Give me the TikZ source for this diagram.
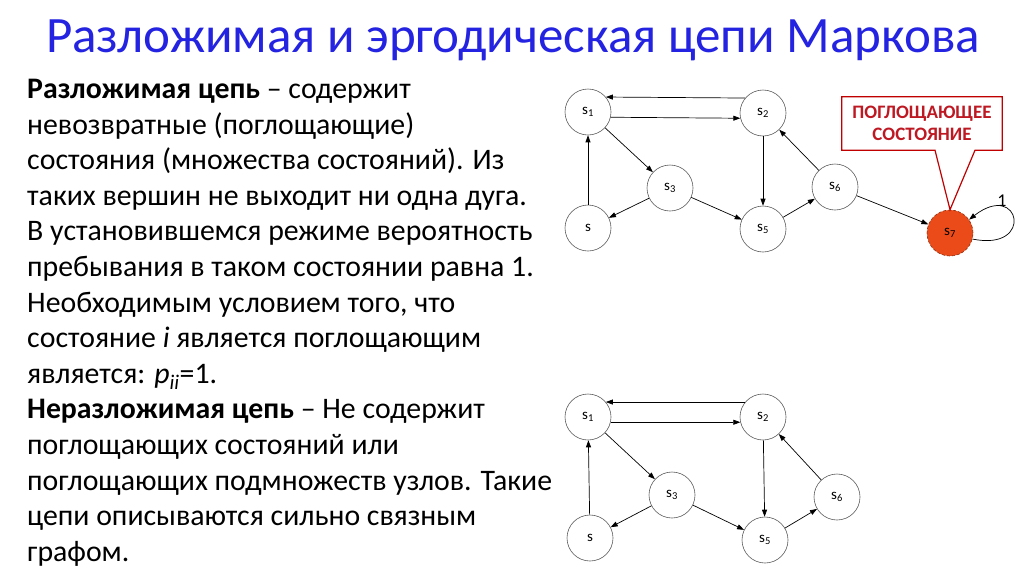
\documentclass[tikz,border=0pt]{standalone}
\usepackage{fontspec}
\setmainfont{Carlito}
\usetikzlibrary{arrows.meta}
\definecolor{titleblue}{RGB}{35,35,225}
\definecolor{notered}{RGB}{192,0,0}
\definecolor{notetext}{RGB}{190,25,35}
\definecolor{absorbfill}{RGB}{235,75,25}

\begin{document}
\begin{tikzpicture}[x=1pt,y=-1pt,
    state/.style={circle, draw=black!65, line width=0.6pt, minimum size=46pt, inner sep=0pt, font=\fontsize{15}{15}\selectfont},
    link/.style={line width=0.7pt, -{Triangle[length=7pt,width=5pt]}}]
  \useasboundingbox (0,0) rectangle (1024,576);
  % title
  \node[font=\fontsize{51}{58}\selectfont, text=titleblue, draw=none] (title) at (513,40) {Разложимая и эргодическая цепи Маркова};
  % explanation
  \node[anchor=north west, inner sep=0pt, align=left, font=\fontsize{29.8}{35.6}\selectfont] (body) at (27,79) {%
    \textbf{Разложимая цепь} – содержит\\
    невозвратные (поглощающие)\\
    состояния (множества состояний). Из\\
    таких вершин не выходит ни одна дуга.\\
    В установившемся режиме вероятность\\
    пребывания в таком состоянии равна 1.\\
    Необходимым условием того, что\\
    состояние \textit{i} является поглощающим\\
    является: \textit{p}\textsubscript{\textit{ii}}=1.\\
    \textbf{Неразложимая цепь} – Не содержит\\
    поглощающих состояний или\\
    поглощающих подмножеств узлов. Такие\\
    цепи описываются сильно связным\\
    графом.};

  % reducible chain
  \node[state] (a1) at (588,112) {s\textsubscript{1}};
  \node[state] (a2) at (763,113) {s\textsubscript{2}};
  \node[state] (a3) at (670,188) {s\textsubscript{3}};
  \node[state] (a4) at (588,228) {s};
  \node[state] (a5) at (763,229) {s\textsubscript{5}};
  \node[state] (a6) at (835,187) {s\textsubscript{6}};
  \node[state, fill=absorbfill, draw=absorbfill!60!black, densely dashed] (a7) at (950,233) {s\textsubscript{7}};
  \draw[link] (a2.140) -- (a1.40);
  \draw[link] (a1.-13) -- (a2.193);
  \draw[link] (a1) -- (a3);
  \draw[link] (a4) -- (a1);
  \draw[link] (a3) -- (a4);
  \draw[link] (a3) -- (a5);
  \draw[link] (a2) -- (a5);
  \draw[link] (a5) -- (a6);
  \draw[link] (a6) -- (a2);
  \draw[link] (a6) -- (a7);
  \draw[link] (a7.-15) .. controls (1035,252) and (1020,180) .. (a7.35);
  \node[font=\fontsize{18}{18}\selectfont] (loopval) at (1002,201) {1};

  % callout
  \node[minimum width=160pt, minimum height=53pt] (note) at (922,123.5) {};
  \draw[notered, line width=1.2pt, fill=white, line join=miter]
    (note.north west) -- (note.north east) -- (note.south east)
    -- ([xshift=53pt]note.south) -- (a7.north) -- ([xshift=13pt]note.south)
    -- (note.south west) -- cycle;
  \node[align=center, text=notetext, font=\bfseries\fontsize{19}{22}\selectfont] (notelabel) at (note) {ПОГЛОЩАЮЩЕЕ\\СОСТОЯНИЕ};

  % irreducible chain
  \node[state] (b1) at (588,417) {s\textsubscript{1}};
  \node[state] (b2) at (763,417) {s\textsubscript{2}};
  \node[state] (b3) at (672,495) {s\textsubscript{3}};
  \node[state] (b4) at (590,538) {s};
  \node[state] (b5) at (765,540) {s\textsubscript{5}};
  \node[state] (b6) at (837,497) {s\textsubscript{6}};
  \draw[link] (b2.140) -- (b1.40);
  \draw[link] (b1.-13) -- (b2.193);
  \draw[link] (b1) -- (b3);
  \draw[link] (b4) -- (b1);
  \draw[link] (b3) -- (b4);
  \draw[link] (b3) -- (b5);
  \draw[link] (b2) -- (b5);
  \draw[link] (b5) -- (b6);
  \draw[link] (b6) -- (b2);
\end{tikzpicture}
\end{document}
